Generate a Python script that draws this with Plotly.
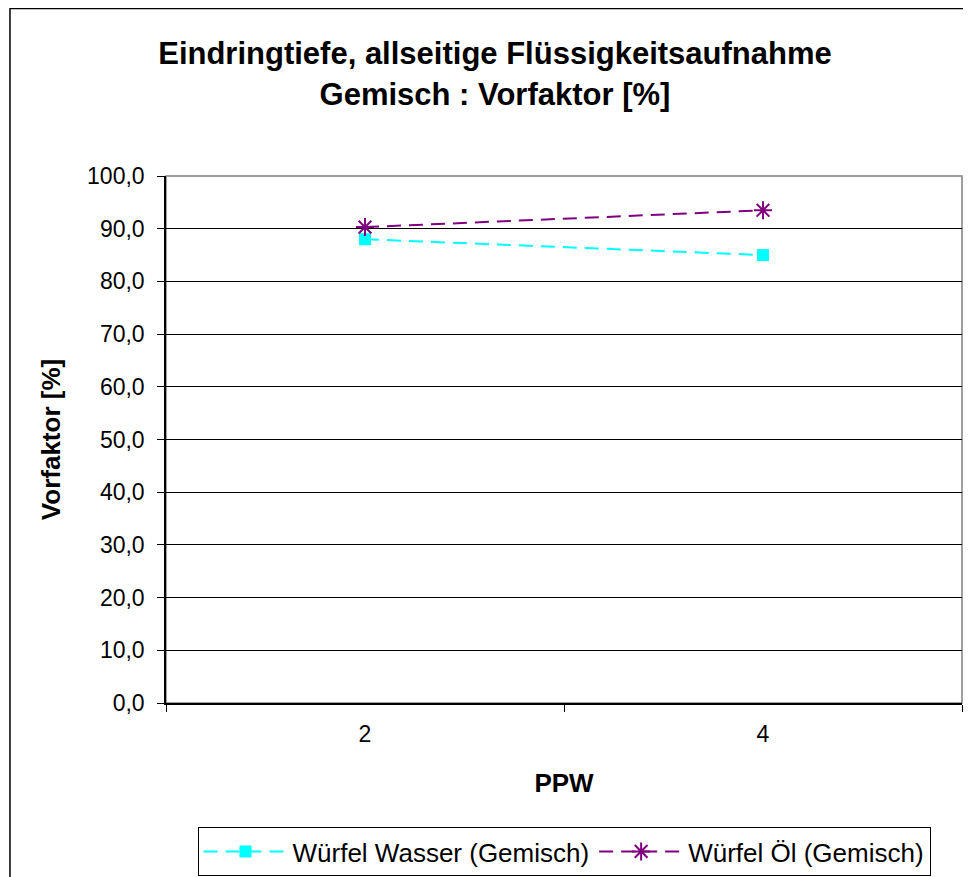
import plotly.graph_objects as go

categories = ["2", "4"]
wasser = [88.0, 85.0]
oel = [90.3, 93.5]
y_ticks = [0, 10, 20, 30, 40, 50, 60, 70, 80, 90, 100]

fig = go.Figure()
fig.add_trace(go.Scatter(
    x=categories, y=wasser, name="Würfel Wasser (Gemisch)", mode="lines+markers",
    line=dict(color="#00FFFF", width=2, dash="14px,8px"),
    marker=dict(symbol="square", size=12, color="#00FFFF"),
))
fig.add_trace(go.Scatter(
    x=categories, y=oel, name="Würfel Öl (Gemisch)", mode="lines+markers",
    line=dict(color="#800080", width=2, dash="14px,8px"),
    marker=dict(symbol="asterisk-open", size=15, color="#800080",
                line=dict(color="#800080", width=2)),
))

font = "Liberation Sans, Arial, sans-serif"
fig.update_layout(
    width=963, height=869,
    margin=dict(l=158, r=9, t=168, b=174, autoexpand=False),
    paper_bgcolor="white", plot_bgcolor="white",
    separators=", ",
    font=dict(family=font, color="black", size=23),
    title=dict(
        text="<b>Eindringtiefe, allseitige Flüssigkeitsaufnahme<br>Gemisch : Vorfaktor [%]</b>",
        x=0.5057, xanchor="center", y=0.935, yanchor="top",
        font=dict(size=31, family=font, color="black"),
    ),
    xaxis=dict(
        type="category", range=[-0.5, 1.5], tickson="boundaries",
        ticks="outside", ticklen=7, tickcolor="black",
        showline=True, linecolor="black", linewidth=1.5,
        showgrid=False, zeroline=False, automargin=False,
        tickfont=dict(size=23), ticklabelstandoff=10,
        title=dict(text="<b>PPW</b>", font=dict(size=26), standoff=27),
    ),
    yaxis=dict(
        range=[0, 100], tickvals=y_ticks, tickformat=".1f",
        ticks="outside", ticklen=7, tickcolor="black",
        showline=True, linecolor="black", linewidth=1.5,
        showgrid=True, gridcolor="black", gridwidth=1,
        zeroline=False, automargin=False,
        tickfont=dict(size=23), ticklabelstandoff=8,
        title=dict(text="<b>Vorfaktor [%]</b>", font=dict(size=26), standoff=19),
    ),
    legend=dict(
        orientation="h", x=0.5, xanchor="center", y=-0.2353, yanchor="top",
        bordercolor="black", borderwidth=1, font=dict(size=26),
        bgcolor="white", itemwidth=84,
    ),
    showlegend=True,
)

# plot-area border (gray) and outer chart border
fig.add_shape(type="rect", xref="paper", yref="paper", x0=0, y0=0, x1=1, y1=1,
              line=dict(color="#808080", width=1.5), layer="below")
fig.add_shape(type="rect", xref="paper", yref="paper",
              x0=-0.196, y0=-0.5, x1=1.1, y1=1.3178,
              line=dict(color="black", width=1.5), layer="below")

fig.write_html("out.html")
